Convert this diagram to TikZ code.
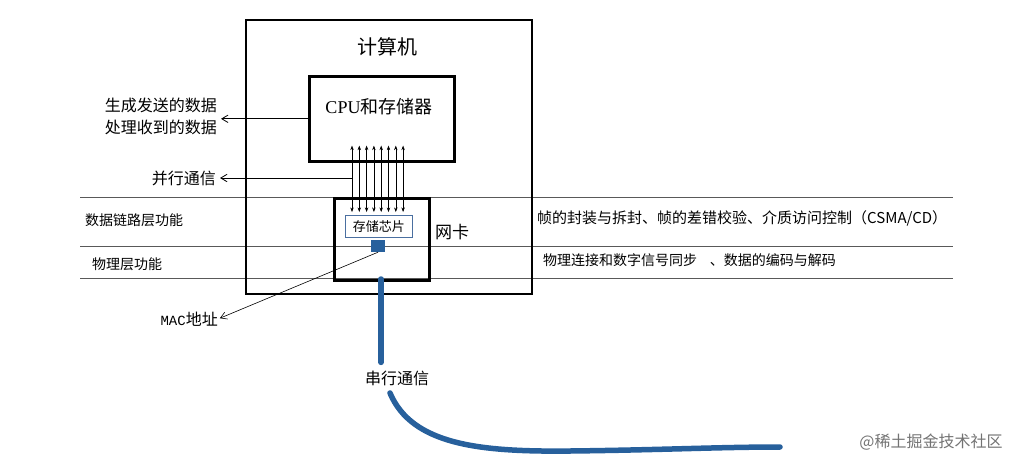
\documentclass[tikz,border=0pt]{standalone}
\usepackage{fontspec}
\setmainfont{Noto Sans CJK SC}
\newfontfamily\cpufont{Liberation Serif}
\newfontfamily\macfont{Liberation Mono}
\usetikzlibrary{arrows.meta,positioning}
\definecolor{cableblue}{HTML}{27609C}
\definecolor{chipblue}{HTML}{4A6FA0}

\begin{document}
\begin{tikzpicture}[
    x=1pt, y=-1pt,
    frame/.style={draw, line width=2.6pt, anchor=north west, inner sep=0pt},
    lbl/.style={inner sep=0pt, font=\fontsize{14}{17}\selectfont},
    big/.style={inner sep=0pt, font=\fontsize{16}{22}\selectfont},
    layer/.style={draw=black!65, line width=0.9pt},
    link/.style={-{Straight Barb[length=2.2mm, width=2.6mm]}, line width=0.8pt, shorten >=4pt},
    bus/.style={{Stealth[length=1.6mm, width=1.2mm]}-{Stealth[length=1.6mm, width=1.2mm]}, line width=0.5pt},
    cable/.style={draw=cableblue, line width=5.5pt, line cap=round}
]
\useasboundingbox (0,0) rectangle (1026,472);
% layer lines
\draw[layer] (80,197) -- (953,197);
\draw[layer] (80,246) -- (953,246);
\draw[layer] (80,278) -- (953,278);

\node[frame, minimum width=286, minimum height=274] (pc) at (244.5,18.5) {};
\node[inner sep=0pt, font=\fontsize{20}{24}\selectfont] (pctitle) at (387,47) {计算机};
\node[frame, minimum width=145, minimum height=85] (cpu) at (308,75) {};
\node[inner sep=0pt, font=\fontsize{18}{22}\selectfont] (cputext) at (379,107) {{\cpufont CPU}和存储器};
\node[frame, minimum width=95, minimum height=82] (nic) at (333,197) {};
\node[inner sep=0pt, font=\fontsize{17}{20}\selectfont] (niclbl) at (452,232) {网卡};
\node[draw=chipblue, line width=0.7pt, fill=white, anchor=north west, minimum width=67, minimum height=22, inner sep=0pt, font=\fontsize{13}{15}\selectfont] (chip) at (345,215) {存储芯片};
\node[fill=cableblue, minimum width=14, minimum height=12, inner sep=0pt] (port) at (378,246) {};

% bus between chip and cpu
\foreach \i in {0,...,7} {
  \coordinate (b\i) at (352+7.3*\i,0);
  \draw[bus] ([yshift=3pt]b\i |- chip.north) -- ([yshift=17pt]b\i |- cpu.south);
}

% left side
\node[big, anchor=east, align=right] (gen) at (217,116) {生成发送的数据\\处理收到的数据};
\node[big, anchor=east] (par) at (216,178) {并行通信};
\node[inner sep=0pt, anchor=east, font=\fontsize{16}{19}\selectfont] (mac) at (218,319) {{\macfont\fontsize{14}{17}\selectfont MAC}地址};
\draw[link] (cpu.west) -- (gen.east |- cpu.west);
\draw[link] (b0 |- par) -- (par);
\draw[link, line width=0.6pt, shorten >=2pt] (port.south) -- (mac.east);

% layers
\node[lbl, anchor=west] (dll) at (85,220) {数据链路层功能};
\node[lbl, anchor=west] (phy) at (92,264) {物理层功能};
\node[lbl, anchor=west, font=\fontsize{15}{18}\selectfont] (dlldesc) at (537,218) {帧的封装与拆封、帧的差错校验、介质访问控制（CSMA/CD）};
\node[lbl, anchor=west] (phydesc) at (543,260) {物理连接和数字信号同步\hspace{0.9em}、数据的编码与解码};

% serial cable
\node[big] (serial) at (397,378) {串行通信};
\coordinate (cabletop) at (381,279);
\coordinate (c1) at (390,393);
\coordinate (cableend) at (780,447);
\draw[cable] (cabletop) -- ([yshift=8pt]serial.north -| cabletop);
\draw[cable] (c1) .. controls (412,445) and (480,452) .. (570,451) .. controls (660,450) and (720,447) .. (cableend);

\node[inner sep=0pt, font=\fontsize{16}{19}\selectfont, text=black!55] (mark) at (931,442) {@稀土掘金技术社区};
\end{tikzpicture}
\end{document}
